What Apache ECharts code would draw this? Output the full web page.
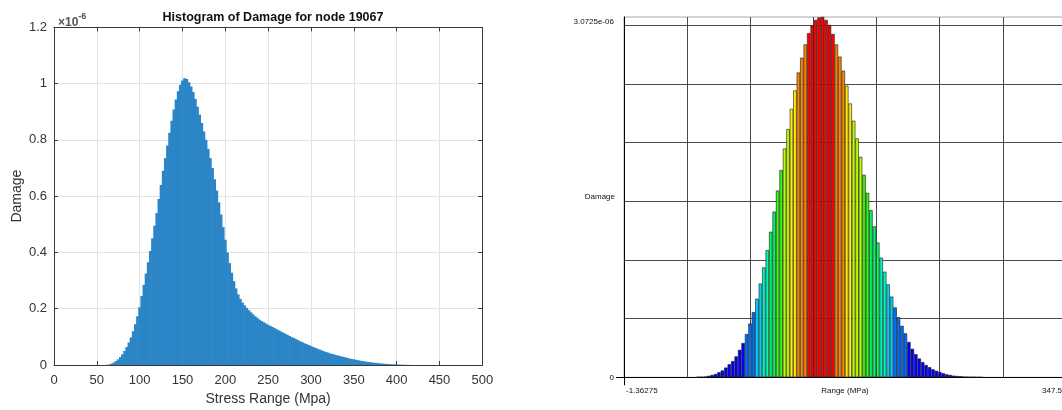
<!DOCTYPE html>
<html>
<head>
<meta charset="utf-8">
<script src="https://cdn.jsdelivr.net/npm/echarts@6/dist/echarts.min.js"></script>
<style>
  html, body { margin: 0; padding: 0; background: #ffffff; }
  #chart { width: 1062px; height: 410px; }
</style>
</head>
<body>
<div id="chart"></div>
<script>
// ---------- Left panel: damage histogram for node 19067 (damage in units of 1e-6) ----------
const leftBinStart = 62.5;   // centre of the first stress-range bin, MPa
const leftBinWidth = 2.5;    // MPa
const leftDamage = [
  0.001, 0.002, 0.005, 0.009, 0.014, 0.020, 0.028, 0.038, 0.050, 0.064,
  0.080, 0.098, 0.120, 0.145, 0.173, 0.205, 0.245, 0.285, 0.325, 0.365,
  0.405, 0.450, 0.495, 0.540, 0.590, 0.640, 0.690, 0.735, 0.780, 0.825,
  0.868, 0.908, 0.943, 0.973, 0.996, 1.011, 1.019, 1.016, 1.005, 0.990,
  0.970, 0.945, 0.918, 0.890, 0.860, 0.830, 0.800, 0.768, 0.735, 0.700,
  0.660, 0.620, 0.578, 0.535, 0.490, 0.445, 0.400, 0.362, 0.328, 0.298,
  0.272, 0.251, 0.235, 0.222, 0.212, 0.203, 0.195, 0.187, 0.180, 0.173,
  0.167, 0.161, 0.156, 0.152, 0.147, 0.143, 0.139, 0.135, 0.131, 0.127,
  0.123, 0.119, 0.115, 0.111, 0.107, 0.103, 0.099, 0.096, 0.092, 0.088,
  0.084, 0.081, 0.077, 0.074, 0.071, 0.067, 0.064, 0.061, 0.058, 0.055,
  0.052, 0.049, 0.046, 0.044, 0.041, 0.039, 0.037, 0.035, 0.033, 0.031,
  0.029, 0.027, 0.025, 0.023, 0.0215, 0.020, 0.0185, 0.017, 0.0155, 0.014,
  0.0128, 0.0116, 0.0105, 0.0095, 0.0085, 0.0076, 0.0068, 0.006, 0.0053, 0.0046,
  0.004, 0.0035, 0.003, 0.0025, 0.0021, 0.0017, 0.0014, 0.0011, 0.0008, 0.0006,
  0.0004, 0.0003, 0.0002, 0.0001
];
const leftTitle = 'Histogram of Damage for node 19067';
const leftXName = 'Stress Range (Mpa)';
const leftYName = 'Damage';

// ---------- Right panel: damage per range bin, coloured by height ----------
const rightRangeMin = -1.36275;
const rightRangeMax = 347.5;
const rightBinCount = 128;
const rightFirstBin = 21;    // index of the first bin that carries damage
const rightDamage = [        // units of 1e-6
  0.003, 0.003, 0.006, 0.012, 0.020, 0.028, 0.043, 0.058, 0.083, 0.111,
  0.138, 0.178, 0.234, 0.292, 0.369, 0.458, 0.556, 0.670, 0.799, 0.937,
  1.085, 1.241, 1.413, 1.592, 1.767, 1.951, 2.117, 2.289, 2.446, 2.599,
  2.725, 2.839, 2.934, 2.999, 3.048, 3.069, 3.0725, 3.048, 3.005, 2.928,
  2.839, 2.735, 2.615, 2.486, 2.335, 2.188, 2.037, 1.880, 1.727, 1.573,
  1.426, 1.287, 1.149, 1.020, 0.900, 0.793, 0.688, 0.596, 0.513, 0.439,
  0.375, 0.301, 0.243, 0.197, 0.160, 0.129, 0.104, 0.086, 0.068, 0.055,
  0.045, 0.034, 0.025, 0.020, 0.014, 0.011, 0.009, 0.006, 0.005, 0.003,
  0.0025, 0.0015, 0.001
];
const rightYTickValues = [0, 3.0725];
const rightYTickLabels = ['0', '3.0725e-06'];
const rightXTickLabels = ['-1.36275', '347.5'];
const rightXName = 'Range (MPa)';
const rightYName = 'Damage';

// Colour bands (fraction of the peak bin) in a jet-like ramp
const bandLimits = [0.11, 0.21, 0.29, 0.37, 0.5, 0.6, 0.715, 0.82, 0.93];
const bandColors = ['#0000ff', '#0070ff', '#00d0ff', '#00f8bc', '#00f860',
                    '#34f810', '#bcfc00', '#ffec00', '#ff8400', '#ff0000'];

// ---------- series data ----------
const leftData = leftDamage.map((d, i) => [leftBinStart + i * leftBinWidth, d]);
const rightBinWidth = (rightRangeMax - rightRangeMin) / rightBinCount;
const rightData = rightDamage.map((d, i) =>
  [rightRangeMin + (rightFirstBin + i + 0.5) * rightBinWidth, d]);
const rightPeak = Math.max(...rightDamage);

function bandColor(v) {
  const r = v / rightPeak;
  let k = 0;
  while (k < bandLimits.length && r >= bandLimits[k]) k++;
  return bandColors[k];
}

const axisDark = '#3a3a3a';
const matlabText = '#333333';
const font = 'Liberation Sans, Arial, sans-serif';

const chart = echarts.init(document.getElementById('chart'), null, { renderer: 'canvas' });

chart.setOption({
  animation: false,
  backgroundColor: '#ffffff',
  textStyle: { fontFamily: font },
  title: [
    {
      text: leftTitle,
      left: 268, top: 6, textAlign: 'center',
      textStyle: { fontSize: 12.5, fontWeight: 'bold', color: '#111', fontFamily: font }
    },
    {
      text: '{a|×10}{b|-6}',
      left: 53, top: 5,
      textStyle: {
        fontFamily: font,
        rich: {
          a: { fontSize: 12, color: '#555', padding: [7, 0, 0, 0], fontFamily: font },
          b: { fontSize: 9, color: '#555', padding: [0, 0, 5, 0], fontFamily: font }
        }
      }
    }
  ],
  grid: [
    { left: 54, right: 579.7, top: 27.3, bottom: 45, outerBoundsMode: 'none' },
    { left: 624, right: -4, top: 17, bottom: 32.7, outerBoundsMode: 'none',
      show: true, borderColor: '#a8a8a8', borderWidth: 1, backgroundColor: 'transparent' }
  ],
  xAxis: [
    { // left bottom axis
      type: 'value', gridIndex: 0, min: 0, max: 500, interval: 50,
      axisLine: { show: true, onZero: false, lineStyle: { color: axisDark, width: 1 } },
      axisTick: { show: true, inside: true, length: 4, lineStyle: { color: axisDark } },
      axisLabel: { fontSize: 13, color: matlabText, margin: 9, fontFamily: font },
      splitLine: { show: true, lineStyle: { color: '#e2e2e2', width: 1 } },
      name: leftXName, nameLocation: 'middle', nameGap: 27, nameMoveOverlap: false,
      nameTextStyle: { fontSize: 14, color: matlabText, fontFamily: font }
    },
    { // left top box edge
      type: 'value', gridIndex: 0, position: 'top', min: 0, max: 500, interval: 50,
      axisLine: { show: true, onZero: false, lineStyle: { color: axisDark, width: 1 } },
      axisTick: { show: true, inside: true, length: 4, lineStyle: { color: axisDark } },
      axisLabel: { show: false }, splitLine: { show: false }
    },
    { // right panel range axis
      type: 'value', gridIndex: 1, min: rightRangeMin, max: rightRangeMax,
      axisLine: { show: true, onZero: false, lineStyle: { color: '#000', width: 1 } },
      axisTick: { show: true, inside: false, length: 8, customValues: [rightRangeMin],
                  lineStyle: { color: '#000', width: 1 } },
      axisLabel: {
        show: true, fontSize: 8, color: '#111', margin: 9, fontFamily: font,
        customValues: [rightRangeMin, rightRangeMax],
        alignMinLabel: 'left', alignMaxLabel: 'right',
        formatter: (v) => (v === rightRangeMin ? rightXTickLabels[0] : rightXTickLabels[1]),
        padding: [0, 4, 0, 2]
      },
      splitLine: { show: false },
      name: rightXName, nameLocation: 'middle', nameGap: 9, nameMoveOverlap: false,
      nameTextStyle: { fontSize: 8, color: '#111', fontFamily: font, verticalAlign: 'top' }
    },
    { // right panel vertical grid
      type: 'value', gridIndex: 1, min: 0, max: 7, interval: 1,
      axisLine: { show: false }, axisTick: { show: false }, axisLabel: { show: false },
      splitLine: { show: true, showMinLine: false, showMaxLine: false,
                   lineStyle: { color: '#4a4a4a', width: 1 } }
    }
  ],
  yAxis: [
    { // left axis
      type: 'value', gridIndex: 0, min: 0, max: 1.2, interval: 0.2,
      axisLine: { show: true, onZero: false, lineStyle: { color: axisDark, width: 1 } },
      axisTick: { show: true, inside: true, length: 4, lineStyle: { color: axisDark } },
      axisLabel: { fontSize: 13, color: matlabText, margin: 7, fontFamily: font },
      splitLine: { show: true, lineStyle: { color: '#e2e2e2', width: 1 } },
      name: leftYName, nameLocation: 'middle', nameGap: 30, nameMoveOverlap: false,
      nameTextStyle: { fontSize: 14, color: matlabText, fontFamily: font }
    },
    { // left right-hand box edge
      type: 'value', gridIndex: 0, position: 'right', min: 0, max: 1.2, interval: 0.2,
      axisLine: { show: true, onZero: false, lineStyle: { color: axisDark, width: 1 } },
      axisTick: { show: true, inside: true, length: 4, lineStyle: { color: axisDark } },
      axisLabel: { show: false }, splitLine: { show: false }
    },
    { // right panel damage axis
      type: 'value', gridIndex: 1, min: 0, max: rightYTickValues[1],
      axisLine: { show: true, onZero: false, lineStyle: { color: '#000', width: 1 } },
      axisTick: { show: true, inside: false, length: 8, customValues: [0],
                  lineStyle: { color: '#000', width: 1 } },
      axisLabel: {
        show: true, fontSize: 8, color: '#111', margin: 10, fontFamily: font,
        customValues: rightYTickValues,
        formatter: (v) => (v === 0 ? rightYTickLabels[0] : '{top|' + rightYTickLabels[1] + '}'),
        rich: { top: { fontSize: 8, color: '#111', padding: [10, 0, 0, 0], fontFamily: font } }
      },
      splitLine: { show: false },
      name: rightYName, nameLocation: 'middle', nameGap: 9, nameRotate: 0, nameMoveOverlap: false,
      nameTextStyle: { fontSize: 8, color: '#111', align: 'right', fontFamily: font }
    },
    { // right panel horizontal grid
      type: 'value', gridIndex: 1, min: 0, max: 6.141, interval: 1,
      axisLine: { show: false }, axisTick: { show: false }, axisLabel: { show: false },
      splitLine: { show: true, showMinLine: false, showMaxLine: false,
                   lineStyle: { color: '#4a4a4a', width: 1 } }
    }
  ],
  series: [
    {
      type: 'bar', xAxisIndex: 0, yAxisIndex: 0,
      data: leftData,
      barWidth: 2.8,
      itemStyle: { color: '#2b85c6', borderWidth: 0 },
      silent: true
    },
    {
      type: 'bar', xAxisIndex: 2, yAxisIndex: 2,
      data: rightData,
      barCategoryGap: '0%',
      itemStyle: {
        color: (p) => bandColor(p.value[1]),
        borderColor: '#1a1a1a', borderWidth: 0.6
      },
      silent: true
    }
  ]
});
</script>
</body>
</html>
